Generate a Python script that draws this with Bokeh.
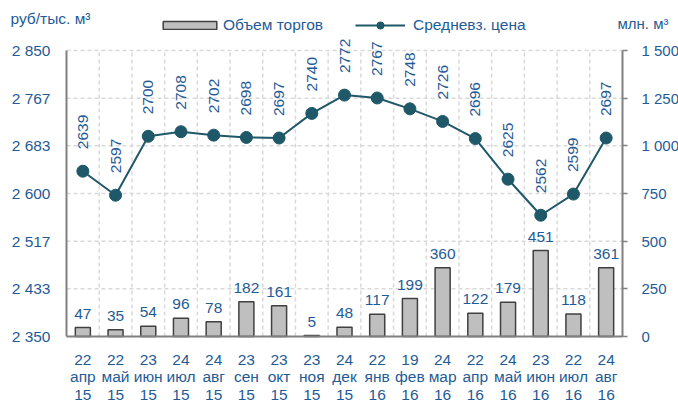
import math
from bokeh.plotting import figure
from bokeh.models import (Range1d, LinearAxis, FixedTicker, ColumnDataSource,
                          Legend, LegendItem, Label)
from bokeh.core.properties import value
from bokeh.embed import file_html
from bokeh.resources import INLINE

# ---- data ----
days = ["22", "22", "23", "24", "24", "23", "23", "23", "24",
        "22", "19", "24", "22", "24", "23", "22", "24"]
months = ["апр", "май", "июн", "июл", "авг", "сен", "окт", "ноя", "дек",
          "янв", "фев", "мар", "апр", "май", "июн", "июл", "авг"]
years = ["15"] * 9 + ["16"] * 8
price = [2639, 2597, 2700, 2708, 2702, 2698, 2697, 2740, 2772,
         2767, 2748, 2726, 2696, 2625, 2562, 2599, 2697]
volume = [47, 35, 54, 96, 78, 182, 161, 5, 48,
          117, 199, 360, 122, 179, 451, 118, 361]
left_ticks = [2350, 2350 + 500 / 6, 2350 + 1000 / 6, 2600,
              2350 + 2000 / 6, 2350 + 2500 / 6, 2850]
left_tick_labels = ["2 350", "2 433", "2 517", "2 600", "2 683", "2 767", "2 850"]
right_ticks = [0, 250, 500, 750, 1000, 1250, 1500]
right_tick_labels = ["0", "250", "500", "750", "1 000", "1 250", "1 500"]
bar_name = "Объем торгов"
line_name = "Средневз. цена"
left_unit = "руб/тыс. м³"
right_unit = "млн. м³"

# ---- styles / geometry ----
FONT = "Liberation Sans"
TXT = "#1F5B96"
LINE = "#1F5868"
GRID = "#D9D9D9"
AX = "#808080"
FS = "15.5px"

W, H = 678, 404
PL, PR, PT, PB = 66, 622, 50, 336   # pixel box of the plotting area
n = len(price)
lo, hi = left_ticks[0], left_ticks[-1]
rlo, rhi = right_ticks[0], right_ticks[-1]
xpp = n / (PR - PL)
ypp = (hi - lo) / (PB - PT)
rpp = (rhi - rlo) / (PB - PT)

xs = [i + 0.5 for i in range(n)]
src = ColumnDataSource(dict(
    x=xs, price=price, volume=volume,
    plab=[str(v) for v in price], vlab=[str(v) for v in volume]))

p = figure(width=W, height=H, output_backend="svg", toolbar_location=None,
           x_range=Range1d(-PL * xpp, n + (W - PR) * xpp),
           y_range=Range1d(lo - (H - PB) * ypp, hi + PT * ypp),
           min_border=0)
p.outline_line_color = None
p.background_fill_color = "white"
p.border_fill_color = "white"
p.extra_y_ranges = {"right": Range1d(rlo - (H - PB) * rpp, rhi + PT * rpp)}
p.xgrid.visible = False
p.ygrid.visible = False

# grid lines (dashed), limited to the plotting box
bnd = list(range(1, n))
p.segment(x0=bnd, x1=bnd, y0=[lo] * len(bnd), y1=[hi] * len(bnd),
          line_color=GRID, line_dash="4 3", line_width=1.5)
gy = left_ticks[1:]
p.segment(x0=[0] * len(gy), x1=[n] * len(gy), y0=gy, y1=gy,
          line_color=GRID, line_dash="4 3", line_width=1.5)

# left axis
ya = p.yaxis[0]
ya.fixed_location = 0
ya.bounds = (lo, hi)
ya.ticker = FixedTicker(ticks=left_ticks)
ya.major_label_overrides = {t: l for t, l in zip(left_ticks, left_tick_labels)}
ya.axis_line_color = AX
ya.axis_line_width = 2
ya.major_tick_line_color = None
ya.minor_tick_line_color = None
ya.major_label_text_font = FONT
ya.major_label_text_font_size = FS
ya.major_label_text_color = TXT
ya.major_label_standoff = 10

# right axis
ra = LinearAxis(y_range_name="right", bounds=(rlo, rhi), fixed_location=n)
ra.ticker = FixedTicker(ticks=right_ticks)
ra.major_label_overrides = {t: l for t, l in zip(right_ticks, right_tick_labels)}
ra.axis_line_color = AX
ra.axis_line_width = 2
ra.major_tick_line_color = AX
ra.major_tick_line_width = 1.5
ra.major_tick_in = 0
ra.major_tick_out = 5
ra.minor_tick_line_color = None
ra.major_label_text_font = FONT
ra.major_label_text_font_size = "15px"
ra.major_label_text_color = TXT
ra.major_label_standoff = 14
p.add_layout(ra, "right")

# bottom axis
xa = p.xaxis[0]
xa.fixed_location = lo
xa.bounds = (0, n)
xa.ticker = FixedTicker(ticks=xs)
xa.major_label_overrides = {x: f"{d}\n{m}\n{y}" for x, d, m, y in zip(xs, days, months, years)}
xa.axis_line_color = AX
xa.axis_line_width = 2
xa.major_tick_line_color = None
xa.minor_tick_line_color = None
xa.major_label_text_font = FONT
xa.major_label_text_font_size = FS
xa.major_label_text_color = TXT
xa.major_label_text_line_height = 1.05
xa.major_label_standoff = 8

# bars
bars = p.vbar(x="x", top="volume", bottom=0, width=0.46, source=src,
              y_range_name="right", fill_color="#BFBFBF",
              line_color="#404040", line_width=1.5)
p.text(x="x", y="volume", text="vlab", source=src, y_range_name="right",
       text_align="center", text_baseline="bottom", y_offset=-9,
       text_font=value(FONT), text_font_size=FS, text_color=TXT)

# line
ln = p.line(x="x", y="price", source=src, line_color=LINE, line_width=2)
pts = p.scatter(x="x", y="price", source=src, size=12, fill_color=LINE,
                line_color=LINE)
p.text(x="x", y="price", text="plab", source=src, angle=math.pi / 2,
       text_align="left", text_baseline="middle", y_offset=-22,
       text_font=value(FONT), text_font_size=FS, text_color=TXT)

# legends (screen positions from canvas bottom-left)
lg1 = Legend(items=[LegendItem(label=bar_name, renderers=[bars])],
             location=(156, H - 34), orientation="horizontal",
             glyph_width=67, glyph_height=10, label_height=18,
             label_standoff=0, padding=0, margin=0, spacing=0,
             border_line_color=None, background_fill_alpha=0,
             label_text_font=FONT, label_text_font_size=FS,
             label_text_color=TXT)
lg2 = Legend(items=[LegendItem(label=line_name, renderers=[ln, pts])],
             location=(355, H - 34), orientation="horizontal",
             glyph_width=50, glyph_height=18, label_height=18,
             label_standoff=8, padding=0, margin=0, spacing=0,
             border_line_color=None, background_fill_alpha=0,
             label_text_font=FONT, label_text_font_size=FS,
             label_text_color=TXT)
p.add_layout(lg1, "center")
p.add_layout(lg2, "center")

# unit labels
p.add_layout(Label(x=10, y=H - 18, x_units="screen", y_units="screen",
                   text=left_unit, text_baseline="middle", text_align="left",
                   text_font=FONT, text_font_size=FS, text_color=TXT))
p.add_layout(Label(x=617, y=H - 23, x_units="screen", y_units="screen",
                   text=right_unit, text_baseline="middle", text_align="left",
                   text_font=FONT, text_font_size="15px", text_color=TXT))

open("out.html", "w").write(file_html(p, INLINE))
